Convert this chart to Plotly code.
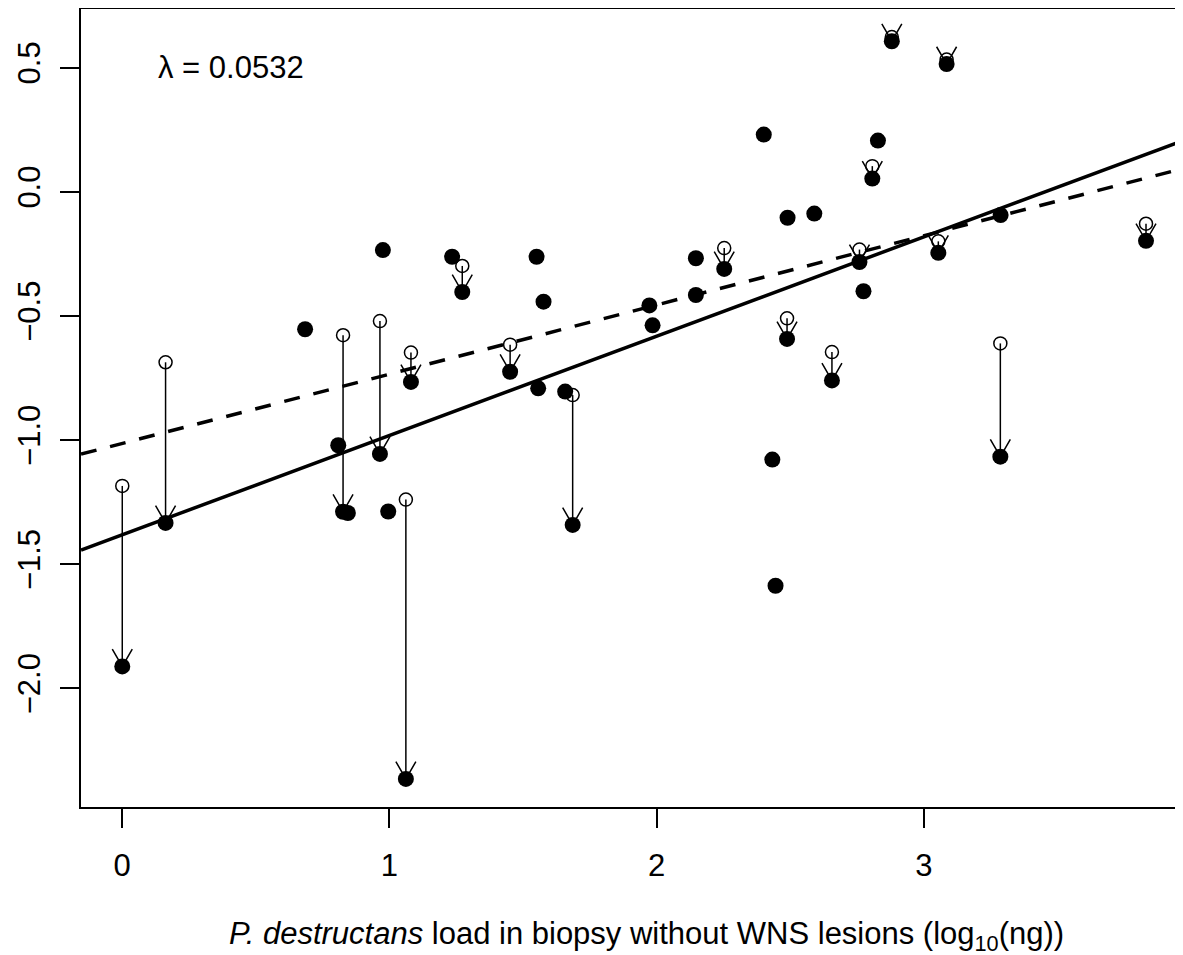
import plotly.graph_objects as go
import numpy as np

# Points with an arrow: open circle (uncorrected) -> filled circle (corrected)
arrow_x = [0.001, 0.163, 0.827, 0.965, 1.062, 1.081, 1.273, 1.452, 1.686, 2.253,
           2.488, 2.656, 2.759, 2.807, 2.880, 3.054, 3.085, 3.286, 3.831]
arrow_open_y = [-1.185, -0.687, -0.578, -0.521, -1.240, -0.648, -0.299, -0.616, -0.819, -0.227,
                -0.510, -0.646, -0.233, 0.103, 0.623, -0.200, 0.532, -0.611, -0.129]
arrow_closed_y = [-1.912, -1.334, -1.289, -1.056, -2.365, -0.766, -0.404, -0.725, -1.342, -0.311,
                  -0.593, -0.760, -0.283, 0.053, 0.606, -0.246, 0.514, -1.067, -0.198]

# Filled points without an arrow
other_x = [0.685, 0.809, 0.845, 0.976, 0.996, 1.235, 1.551, 1.577, 1.557, 1.658, 1.973,
           1.985, 2.147, 2.147, 2.401, 2.433, 2.445, 2.490, 2.590, 2.774, 2.828, 3.287]
other_y = [-0.554, -1.021, -1.294, -0.235, -1.288, -0.262, -0.262, -0.443, -0.792, -0.805, -0.458,
           -0.538, -0.268, -0.416, 0.230, -1.079, -1.587, -0.105, -0.088, -0.401, 0.206, -0.094]

# Regression lines (intercept, slope)
solid_fit = (-1.382, 0.400)
dashed_fit = (-1.014, 0.279)

lambda_text = "λ = 0.0532"
x_ticks = [0, 1, 2, 3]
y_ticks = [-2.0, -1.5, -1.0, -0.5, 0.0, 0.5]
y_ticktext = ["−2.0", "−1.5", "−1.0", "−0.5", "0.0", "0.5"]
x_title = "<i>P. destructans</i> load in biopsy without WNS lesions (log<sub>10</sub>(ng))"

# the page body adds an 8px offset, so the figure is sized/offset to compensate
W, H = 1183, 947
ml, mr, mt, mb = 73, 0, 1, 148
xr = [-0.1534, 3.9993]
yr = [-2.478, 0.7358]
pw, ph = W - ml - mr, H - mt - mb
ppx = pw / (xr[1] - xr[0])
ppy = ph / (yr[1] - yr[0])

fig = go.Figure()

# regression lines
lx = np.array(xr)
for (b0, b1), dash in [(solid_fit, "solid"), (dashed_fit, "16px,14px")]:
    fig.add_trace(go.Scatter(x=lx, y=b0 + b1 * lx, mode="lines",
                             line=dict(color="black", width=3.5, dash=dash),
                             showlegend=False, hoverinfo="skip"))

# open circles
fig.add_trace(go.Scatter(x=arrow_x, y=arrow_open_y, mode="markers",
                         marker=dict(symbol="circle-open", size=13, color="black",
                                     line=dict(width=1.5, color="black")),
                         showlegend=False))

# arrows (stems + open V heads)
ax, ay = [], []
L, ang = 20.0, np.radians(30)
for x, yo, yc in zip(arrow_x, arrow_open_y, arrow_closed_y):
    ax += [x, x, None]
    ay += [yo, yc, None]
    dxp, dyp = 0.0, (yc - yo) * ppy
    n = np.hypot(dxp, dyp)
    if n == 0:
        continue
    ux, uy = dxp / n, dyp / n
    pts = []
    for s in (1, -1):
        c, si = np.cos(s * ang), np.sin(s * ang)
        bx = -(ux * c - uy * si) * L
        by = -(ux * si + uy * c) * L
        pts.append((x + bx / ppx, yc + by / ppy))
    ax += [pts[0][0], x, pts[1][0], None]
    ay += [pts[0][1], yc, pts[1][1], None]
fig.add_trace(go.Scatter(x=ax, y=ay, mode="lines",
                         line=dict(color="black", width=1.5),
                         showlegend=False, hoverinfo="skip"))

# filled points
fig.add_trace(go.Scatter(x=arrow_x + other_x, y=arrow_closed_y + other_y, mode="markers",
                         marker=dict(symbol="circle", size=16, color="black"),
                         showlegend=False))

font = dict(family="Liberation Sans, Arial, sans-serif", size=31, color="black")

fig.add_annotation(x=0.127, y=0.5, xref="x", yref="y", text=lambda_text,
                   showarrow=False, xanchor="left", yanchor="middle", font=font)
fig.add_annotation(x=(646 - 81) / pw, y=-0.162, xref="paper", yref="paper", text=x_title,
                   showarrow=False, xanchor="center", yanchor="middle", font=font)

fig.update_layout(
    width=W, height=H,
    margin=dict(l=ml, r=mr, t=mt, b=mb, pad=0),
    paper_bgcolor="white", plot_bgcolor="white",
    font=font,
    xaxis=dict(range=xr, tickvals=x_ticks, ticks="outside", ticklen=19, tickwidth=1.5,
               tickcolor="black", showline=True, linecolor="black", linewidth=2,
               mirror=True, showgrid=False, zeroline=False, ticklabelstandoff=11),
    yaxis=dict(range=yr, tickvals=y_ticks, ticktext=y_ticktext, tickangle=-90,
               ticks="outside", ticklen=19, tickwidth=1.5, tickcolor="black",
               showline=True, linecolor="black", linewidth=2, mirror=False,
               showgrid=False, zeroline=False, ticklabelstandoff=8),
)

fig.write_html("out.html")
